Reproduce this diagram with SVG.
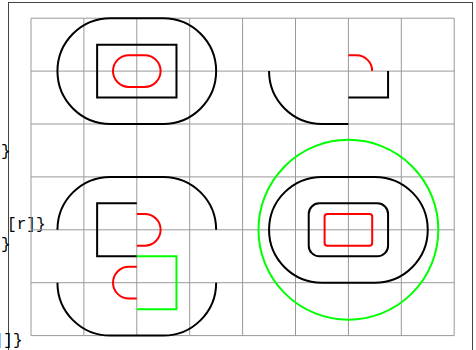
<svg xmlns="http://www.w3.org/2000/svg" width="476" height="350" viewBox="0 0 476 350">
  <style>
    .s { fill: none; stroke-width: 2; vector-effect: non-scaling-stroke; }
    .k { stroke: #000; }
    .r { stroke: #ff0000; }
    .g { stroke: #00ff00; }
    .grid { fill: none; stroke: #999; stroke-width: 1; vector-effect: non-scaling-stroke; }
    .code { font-family: "Liberation Mono", "DejaVu Sans Mono", monospace; font-size: 16px; fill: #000; text-anchor: end; }
  </style>
  <rect x="0" y="0" width="476" height="350" fill="#fff"/>
  <rect id="frame" x="8.5" y="2.5" width="464" height="400" fill="none" stroke="#444" stroke-width="1"/>
  <g id="code-text">
    <text class="code" x="10.5" y="155.5">}</text>
    <text class="code" x="45.5" y="229">[r]}</text>
    <text class="code" x="10.5" y="249">}</text>
    <text class="code" x="22.5" y="345">]]}</text>
  </g>
  <g transform="translate(31 18.2) scale(52.9)">
    <g id="grid">
      <path class="grid" d="M0,0 V6 M1,0 V6 M2,0 V6 M3,0 V6 M4,0 V6 M5,0 V6 M6,0 V6 M7,0 V6 M8,0 V6 M0,0 H8 M0,1 H8 M0,2 H8 M0,3 H8 M0,4 H8 M0,5 H8 M0,6 H8"/>
    </g>
    <g id="panel-top-left">
      <rect class="s k" x="0.5" y="0" width="3" height="2" rx="1" ry="1"/>
      <rect class="s k" x="1.25" y="0.5" width="1.5" height="1"/>
      <rect class="s r" x="1.55" y="0.7" width="0.9" height="0.6" rx="0.3" ry="0.3"/>
    </g>
    <g id="panel-top-right">
      <path class="s k" d="M4.5,1 A1,1 0 0 0 5.5,2 H6"/>
      <path class="s k" d="M6,1.5 H6.75 V1"/>
      <path class="s r" d="M6,0.7 H6.15 A0.3,0.3 0 0 1 6.45,1"/>
    </g>
    <g id="panel-bottom-left">
      <path class="s k" d="M0.5,4 A1,1 0 0 1 1.5,3 H2.5 A1,1 0 0 1 3.5,4"/>
      <path class="s k" d="M3.5,5 A1,1 0 0 1 2.5,6 H1.5 A1,1 0 0 1 0.5,5"/>
      <path class="s k" d="M2,3.5 H1.25 V4.5 H2"/>
      <path class="s r" d="M2,3.7 H2.15 A0.3,0.3 0 0 1 2.15,4.3 H2"/>
      <path class="s r" d="M2,4.7 H1.85 A0.3,0.3 0 0 0 1.85,5.3 H2"/>
      <path class="s g" d="M2,4.5 H2.75 V5.5 H2"/>
    </g>
    <g id="panel-bottom-right">
      <circle class="s g" cx="6" cy="4" r="1.7"/>
      <rect class="s k" x="4.5" y="3" width="3" height="2" rx="1" ry="1"/>
      <rect class="s k" x="5.25" y="3.5" width="1.5" height="1" rx="0.2" ry="0.2"/>
      <rect class="s r" x="5.55" y="3.7" width="0.9" height="0.6" rx="0.05" ry="0.05"/>
    </g>
  </g>
</svg>
